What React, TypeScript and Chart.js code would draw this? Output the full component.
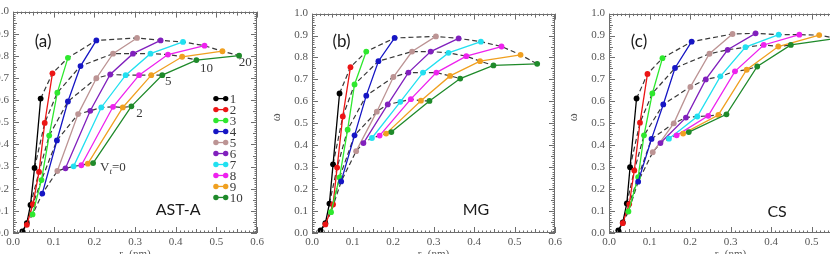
import React, { useEffect, useRef } from "react";
import { Chart, registerables } from "chart.js";

Chart.register(...registerables);

// ---------- data ----------
const SERIES_NAMES = ["1", "2", "3", "4", "5", "6", "7", "8", "9", "10"];
const VT_LEVELS = [0, 2, 5, 10, 20];

// rc (nm) and omega for each series at Vt = 0, 2, 5, 10, 20
const AST_A_RC = [
  [0.023, 0.034, 0.043, 0.053, 0.068],
  [0.034, 0.049, 0.064, 0.078, 0.097],
  [0.048, 0.07, 0.089, 0.109, 0.135],
  [0.072, 0.108, 0.135, 0.166, 0.205],
  [0.109, 0.16, 0.205, 0.246, 0.305],
  [0.129, 0.19, 0.239, 0.295, 0.363],
  [0.149, 0.217, 0.277, 0.338, 0.418],
  [0.168, 0.246, 0.31, 0.381, 0.471],
  [0.184, 0.27, 0.34, 0.416, 0.515],
  [0.197, 0.291, 0.367, 0.451, 0.556],
];
const AST_A_OMEGA = [
  [0.007, 0.045, 0.127, 0.294, 0.607],
  [0.037, 0.13, 0.276, 0.497, 0.721],
  [0.084, 0.239, 0.44, 0.634, 0.791],
  [0.178, 0.418, 0.594, 0.754, 0.87],
  [0.28, 0.537, 0.699, 0.81, 0.881],
  [0.292, 0.552, 0.716, 0.81, 0.87],
  [0.301, 0.567, 0.713, 0.81, 0.863],
  [0.306, 0.57, 0.713, 0.806, 0.846],
  [0.313, 0.567, 0.713, 0.796, 0.821],
  [0.316, 0.572, 0.713, 0.781, 0.801],
];

const MG_RC = [
  [0.021, 0.033, 0.043, 0.052, 0.068],
  [0.033, 0.052, 0.062, 0.076, 0.095],
  [0.047, 0.068, 0.088, 0.105, 0.134],
  [0.072, 0.105, 0.134, 0.164, 0.204],
  [0.109, 0.16, 0.201, 0.247, 0.306],
  [0.127, 0.187, 0.238, 0.293, 0.362],
  [0.148, 0.218, 0.274, 0.337, 0.417],
  [0.167, 0.244, 0.307, 0.381, 0.468],
  [0.183, 0.269, 0.341, 0.415, 0.515],
  [0.196, 0.29, 0.366, 0.448, 0.556],
];
const MG_OMEGA = [
  [0.012, 0.045, 0.134, 0.313, 0.636],
  [0.039, 0.13, 0.298, 0.531, 0.756],
  [0.095, 0.253, 0.471, 0.677, 0.827],
  [0.235, 0.445, 0.626, 0.783, 0.889],
  [0.373, 0.553, 0.711, 0.827, 0.896],
  [0.41, 0.586, 0.731, 0.827, 0.887],
  [0.433, 0.598, 0.731, 0.821, 0.872],
  [0.444, 0.61, 0.731, 0.806, 0.85],
  [0.453, 0.603, 0.716, 0.783, 0.812],
  [0.46, 0.602, 0.704, 0.764, 0.771],
];

const CS_RC = [
  [0.023, 0.034, 0.044, 0.052, 0.068],
  [0.034, 0.05, 0.0625, 0.0765, 0.095],
  [0.048, 0.072, 0.0864, 0.107, 0.132],
  [0.072, 0.105, 0.134, 0.163, 0.204],
  [0.108, 0.16, 0.201, 0.248, 0.305],
  [0.127, 0.19, 0.239, 0.293, 0.362],
  [0.148, 0.218, 0.275, 0.337, 0.419],
  [0.167, 0.245, 0.311, 0.382, 0.47],
  [0.183, 0.27, 0.34, 0.418, 0.519],
  [0.197, 0.29, 0.366, 0.449, 0.562],
];
const CS_OMEGA = [
  [0.012, 0.048, 0.135, 0.3, 0.613],
  [0.045, 0.132, 0.285, 0.503, 0.725],
  [0.098, 0.255, 0.445, 0.636, 0.797],
  [0.234, 0.429, 0.586, 0.752, 0.872],
  [0.368, 0.5, 0.666, 0.817, 0.907],
  [0.41, 0.526, 0.7, 0.835, 0.91],
  [0.43, 0.531, 0.714, 0.847, 0.904],
  [0.445, 0.534, 0.737, 0.857, 0.904],
  [0.453, 0.538, 0.744, 0.85, 0.902],
  [0.46, 0.541, 0.759, 0.857, 0.887],
];

// Vt iso-line labels (panel a)
const VT_LABEL_TEXT = ["0", "2", "5", "10", "20"];
const VT_LABEL_RC = [0.214, 0.311, 0.382, 0.476, 0.571];
const VT_LABEL_OMEGA = [0.295, 0.54, 0.682, 0.741, 0.771];

// ---------- styles ----------
const SERIES_COLORS = [
  "#000000",
  "#ec1515",
  "#2ee82e",
  "#1616c4",
  "#bc9494",
  "#8120bd",
  "#22e0f0",
  "#ee22ee",
  "#f0a020",
  "#1f8a2a",
];
const DASH_COLOR = "#383838";
const AXIS_COLOR = "#6e6e6e";
const TICK_FONT = "Liberation Serif";

const AXIS_W = 46;
const AXIS_H = 34;
const PAD_T = 8;
const PAD_R = 14;

type PanelSpec = {
  key: string;
  tag: string;
  name: string;
  rc: number[][];
  omega: number[][];
  left: number;
  top: number;
  width: number;
  height: number;
  legend: boolean;
  vtLabels: boolean;
  tagPos: number[];
  namePos: number[];
};

const PANELS: PanelSpec[] = [
  {
    key: "a", tag: "(a)", name: "AST-A", rc: AST_A_RC, omega: AST_A_OMEGA,
    left: 13, top: 12, width: 244, height: 224, legend: true, vtLabels: true,
    tagPos: [0.074, 0.866], namePos: [0.406, 0.103],
  },
  {
    key: "b", tag: "(b)", name: "MG", rc: MG_RC, omega: MG_OMEGA,
    left: 312, top: 14, width: 243, height: 222, legend: false, vtLabels: false,
    tagPos: [0.073, 0.871], namePos: [0.405, 0.104],
  },
  {
    key: "c", tag: "(c)", name: "CS", rc: CS_RC, omega: CS_OMEGA,
    left: 609, top: 14, width: 243, height: 222, legend: false, vtLabels: false,
    tagPos: [0.074, 0.871], namePos: [0.415, 0.095],
  },
];

const LEGEND_X0 = 0.499;
const LEGEND_X1 = 0.523;
const LEGEND_TX = 0.533;
const LEGEND_Y0 = 0.607;
const LEGEND_DY = 0.0496;

function makeOverlay(spec: PanelSpec) {
  return {
    id: "overlay" + spec.key,
    afterDraw(chart: any) {
      const ctx: CanvasRenderingContext2D = chart.ctx;
      const { left, right, top, bottom } = chart.chartArea;
      const xs = chart.scales.x;
      const ys = chart.scales.y;
      ctx.save();
      // inward ticks on all 4 sides
      ctx.strokeStyle = AXIS_COLOR;
      ctx.lineWidth = 1;
      ctx.beginPath();
      for (let i = 0; i <= 60; i++) {
        const px = Math.round(xs.getPixelForValue(i / 100)) + 0.5;
        const len = i % 10 === 0 ? 6 : i % 5 === 0 ? 4 : 2.5;
        ctx.moveTo(px, bottom);
        ctx.lineTo(px, bottom - len);
        ctx.moveTo(px, top);
        ctx.lineTo(px, top + len);
      }
      for (let i = 0; i <= 100; i++) {
        const py = Math.round(ys.getPixelForValue(i / 100)) + 0.5;
        const len = i % 10 === 0 ? 6 : i % 5 === 0 ? 4 : 2.5;
        ctx.moveTo(left, py);
        ctx.lineTo(left + len, py);
        ctx.moveTo(right, py);
        ctx.lineTo(right - len, py);
      }
      ctx.stroke();
      ctx.strokeRect(Math.round(left) + 0.5, Math.round(top) + 0.5, Math.round(right - left) - 1, Math.round(bottom - top) - 1);

      // panel tag and name
      ctx.fillStyle = "#1a1a1a";
      ctx.textAlign = "center";
      ctx.textBaseline = "middle";
      ctx.font = "17px Lato";
      ctx.fillText(spec.tag, xs.getPixelForValue(spec.tagPos[0]), ys.getPixelForValue(spec.tagPos[1]));
      ctx.font = "16px Lato";
      ctx.fillText(spec.name, xs.getPixelForValue(spec.namePos[0]), ys.getPixelForValue(spec.namePos[1]));

      // axis titles
      ctx.fillStyle = "#555";
      ctx.save();
      ctx.translate(left - 35, (top + bottom) / 2 - 6);
      ctx.rotate(-Math.PI / 2);
      ctx.font = `12px ${TICK_FONT}`;
      ctx.fillText("ω", 0, 0);
      ctx.restore();
      {
        const cx = (left + right) / 2;
        const by = bottom + 24;
        ctx.textBaseline = "alphabetic";
        ctx.textAlign = "left";
        ctx.font = `11px ${TICK_FONT}`;
        const w1 = ctx.measureText("r").width;
        ctx.font = `8px ${TICK_FONT}`;
        const w2 = ctx.measureText("c").width;
        ctx.font = `11px ${TICK_FONT}`;
        const w3 = ctx.measureText(" (nm)").width;
        let x = cx - (w1 + w2 + w3) / 2;
        ctx.fillText("r", x, by);
        x += w1;
        ctx.font = `8px ${TICK_FONT}`;
        ctx.fillText("c", x, by + 3);
        x += w2;
        ctx.font = `11px ${TICK_FONT}`;
        ctx.fillText(" (nm)", x, by);
      }

      // Vt labels
      if (spec.vtLabels) {
        ctx.fillStyle = "#3a3a3a";
        ctx.textBaseline = "middle";
        VT_LABEL_TEXT.forEach((t, i) => {
          const px = xs.getPixelForValue(VT_LABEL_RC[i]);
          const py = ys.getPixelForValue(VT_LABEL_OMEGA[i]);
          if (i === 0) {
            ctx.textAlign = "left";
            ctx.font = `13px ${TICK_FONT}`;
            ctx.fillText("V", px, py);
            let x = px + ctx.measureText("V").width;
            ctx.font = `italic 9px ${TICK_FONT}`;
            ctx.fillText("t", x, py + 4);
            x += ctx.measureText("t").width;
            ctx.font = `13px ${TICK_FONT}`;
            ctx.fillText("=" + t, x, py);
          } else {
            ctx.textAlign = "center";
            ctx.font = `13px ${TICK_FONT}`;
            ctx.fillText(t, px, py);
          }
        });
      }

      // legend
      if (spec.legend) {
        ctx.textAlign = "left";
        ctx.textBaseline = "middle";
        ctx.font = `13px ${TICK_FONT}`;
        SERIES_NAMES.forEach((name, k) => {
          const py = ys.getPixelForValue(LEGEND_Y0 - k * LEGEND_DY);
          const x0 = xs.getPixelForValue(LEGEND_X0);
          const x1 = xs.getPixelForValue(LEGEND_X1);
          ctx.strokeStyle = SERIES_COLORS[k];
          ctx.fillStyle = SERIES_COLORS[k];
          ctx.lineWidth = 1.3;
          ctx.beginPath();
          ctx.moveTo(x0, py);
          ctx.lineTo(x1, py);
          ctx.stroke();
          [x0, x1].forEach((x) => {
            ctx.beginPath();
            ctx.arc(x, py, 2.7, 0, Math.PI * 2);
            ctx.fill();
          });
          ctx.fillStyle = "#3a3a3a";
          ctx.fillText(name, xs.getPixelForValue(LEGEND_TX), py + 1);
        });
      }
      ctx.restore();
    },
  };
}

function buildConfig(spec: PanelSpec): any {
  const datasets: any[] = [];
  spec.rc.forEach((xsArr, k) => {
    datasets.push({
      label: SERIES_NAMES[k],
      data: xsArr.map((x, i) => ({ x, y: spec.omega[k][i] })),
      showLine: true,
      borderColor: SERIES_COLORS[k],
      backgroundColor: SERIES_COLORS[k],
      borderWidth: 1.3,
      pointRadius: 2.9,
      pointBorderWidth: 0,
      pointHoverRadius: 2.9,
      tension: 0,
      order: 20 - k,
    });
  });
  VT_LEVELS.forEach((vt, i) => {
    datasets.push({
      label: "Vt=" + vt,
      data: spec.rc.map((xsArr, k) => ({ x: xsArr[i], y: spec.omega[k][i] })),
      showLine: true,
      borderColor: DASH_COLOR,
      backgroundColor: DASH_COLOR,
      borderDash: [5, 3],
      borderWidth: 1.2,
      pointRadius: 0,
      tension: 0,
      order: 40,
    });
  });
  const tickFont = { family: TICK_FONT, size: 11 };
  return {
    type: "scatter",
    data: { datasets },
    options: {
      animation: false,
      responsive: false,
      maintainAspectRatio: false,
      devicePixelRatio: 1,
      layout: { padding: { top: PAD_T, right: PAD_R, left: 0, bottom: 0 } },
      plugins: { legend: { display: false }, tooltip: { enabled: false } },
      events: [],
      scales: {
        x: {
          type: "linear",
          min: 0,
          max: 0.6,
          afterFit: (s: any) => {
            s.height = AXIS_H;
          },
          grid: { display: false, drawTicks: false },
          border: { display: false },
          ticks: {
            stepSize: 0.1,
            padding: 3,
            color: "#555",
            font: tickFont,
            maxRotation: 0,
            autoSkip: false,
            callback: (v: any) => Number(v).toFixed(1),
          },
        },
        y: {
          type: "linear",
          min: 0,
          max: 1,
          afterFit: (s: any) => {
            s.width = AXIS_W;
          },
          grid: { display: false, drawTicks: false },
          border: { display: false },
          ticks: {
            stepSize: 0.1,
            padding: 4,
            color: "#555",
            font: tickFont,
            autoSkip: false,
            callback: (v: any) => Number(v).toFixed(1),
          },
        },
      },
    },
    plugins: [makeOverlay(spec)],
  };
}

function Panel({ spec }: { spec: PanelSpec }) {
  const ref = useRef<HTMLCanvasElement>(null);
  const cw = AXIS_W + spec.width + PAD_R;
  const ch = PAD_T + spec.height + AXIS_H;
  useEffect(() => {
    const canvas = ref.current as HTMLCanvasElement;
    const chart = new Chart(canvas, buildConfig(spec));
    const ca = chart.chartArea;
    if (ca) {
      canvas.style.left = `${spec.left - ca.left}px`;
      canvas.style.top = `${spec.top - ca.top}px`;
    }
    return () => chart.destroy();
  }, [spec]);
  return (
    <canvas
      ref={ref}
      width={cw}
      height={ch}
      style={{ position: "absolute", left: spec.left - AXIS_W, top: spec.top - PAD_T, width: cw, height: ch }}
    />
  );
}

export default function App() {
  return (
    <div
      style={{
        position: "fixed",
        left: 0,
        top: 0,
        width: 830,
        height: 254,
        overflow: "hidden",
        background: "#ffffff",
      }}
    >
      {PANELS.map((p) => (
        <Panel key={p.key} spec={p} />
      ))}
    </div>
  );
}
